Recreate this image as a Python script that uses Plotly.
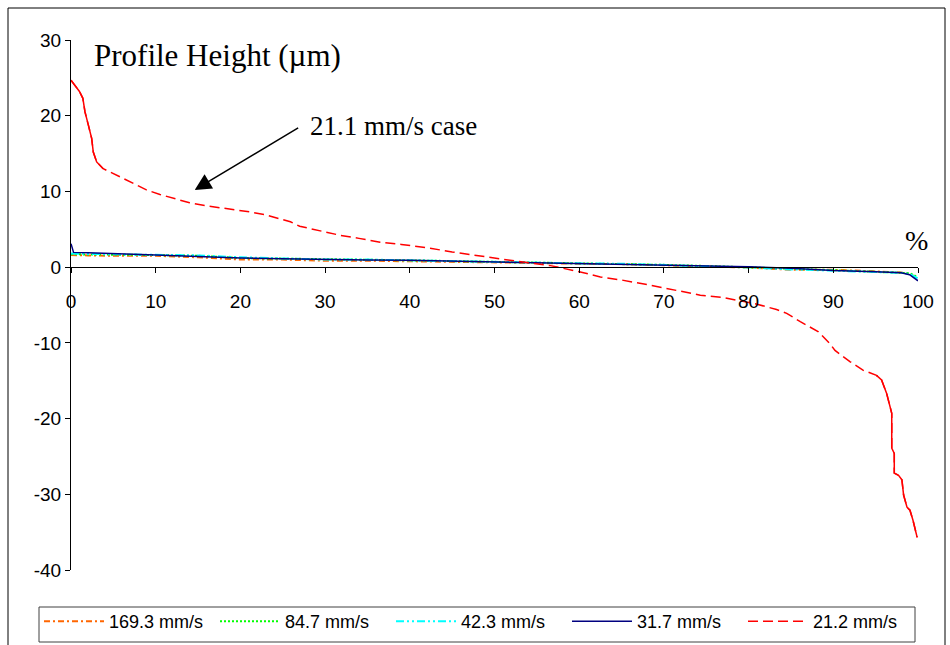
import plotly.graph_objects as go

# ---- data ----
x_flat = [0, 0.3, 2, 5, 10, 15, 20, 25, 30, 35, 40, 45, 50, 55, 60, 65, 70, 75, 80, 85, 90, 95, 98, 99, 100]
y_169 = [1.6, 1.6, 1.55, 1.5, 1.5, 1.3, 1.0, 1.0, 0.85, 0.85, 0.8, 0.65, 0.6, 0.55, 0.45, 0.4, 0.25, 0.1, -0.05, -0.35, -0.35, -0.55, -0.7, -0.9, -1.4]
y_847 = [1.7, 1.7, 1.7, 1.65, 1.6, 1.5, 1.2, 1.15, 1.0, 1.0, 0.9, 0.8, 0.7, 0.6, 0.5, 0.45, 0.3, 0.15, 0.0, -0.2, -0.4, -0.6, -0.7, -0.8, -1.3]
y_423 = [1.8, 1.8, 1.75, 1.7, 1.6, 1.55, 1.3, 1.2, 1.0, 1.0, 0.9, 0.75, 0.7, 0.6, 0.5, 0.45, 0.3, 0.15, -0.05, -0.3, -0.45, -0.65, -0.75, -0.9, -1.5]
y_317 = [3.1, 1.95, 1.9, 1.75, 1.6, 1.4, 1.2, 1.1, 1.0, 0.95, 0.9, 0.8, 0.7, 0.6, 0.5, 0.45, 0.35, 0.2, 0.05, -0.15, -0.45, -0.6, -0.75, -1.0, -1.8]

x_212 = [0, 0.5, 1.0, 1.4, 1.65, 2.05, 2.44, 2.63, 3.03, 3.8,
         5, 6.2, 7.5, 8.9, 10.5, 12.1, 14, 16, 18, 20,
         21.1, 23, 25.9, 27, 29, 31.8, 34, 36.5, 39, 42.4,
         45, 48.6, 51, 53.8, 56.6, 60, 62.5, 65, 68, 70.3,
         72, 74.3, 77, 79, 81, 83.3, 84.5, 86.1, 88.2, 89.6,
         90.2, 92, 93.5, 95.1, 95.7, 96.3, 96.8, 96.9, 96.9, 97.2,
         97.2, 97.7, 98.1, 98.3, 98.7, 99.05, 99.4, 99.6, 99.9]
y_212 = [24.7, 24.0, 23.2, 22.3, 20.5, 18.75, 17.0, 15.2, 13.9, 13.0,
         12.4, 11.7, 11.0, 10.2, 9.6, 9.1, 8.5, 8.1, 7.8, 7.5,
         7.3, 6.9, 6.0, 5.4, 4.9, 4.2, 3.8, 3.3, 3.0, 2.5,
         2.0, 1.4, 1.0, 0.6, 0.2, -0.6, -1.3, -1.7, -2.3, -2.8,
         -3.2, -3.7, -4.0, -4.4, -4.9, -5.6, -6.1, -7.2, -8.5, -10.1,
         -11.0, -12.5, -13.6, -14.3, -14.9, -16.7, -18.7, -19.3, -23.9, -24.6,
         -27.2, -27.5, -28.1, -30.1, -31.7, -32.1, -33.4, -34.5, -35.7]

x_ticks = [0, 10, 20, 30, 40, 50, 60, 70, 80, 90, 100]
y_ticks = [30, 20, 10, 0, -10, -20, -30, -40]
y_tick_text = ["30", "20", "10", "0", "-10", "-20", "-30", "-40"]

names = ["169.3 mm/s", "84.7 mm/s", "42.3 mm/s", "31.7 mm/s", "21.2 mm/s"]

fig = go.Figure()
fig.add_trace(go.Scatter(x=x_flat, y=y_169, mode="lines", name=names[0],
                         line=dict(color="#FF6600", width=2, dash="6px,3px,2px,3px")))
fig.add_trace(go.Scatter(x=x_flat, y=y_847, mode="lines", name=names[1],
                         line=dict(color="#00FF00", width=2, dash="2px,2px")))
fig.add_trace(go.Scatter(x=x_flat, y=y_423, mode="lines", name=names[2],
                         line=dict(color="#00FFFF", width=2, dash="8px,3px,2px,3px,2px,3px")))
fig.add_trace(go.Scatter(x=x_flat, y=y_317, mode="lines", name=names[3],
                         line=dict(color="#000080", width=1.5)))
fig.add_trace(go.Scatter(x=x_212, y=y_212, mode="lines", name=names[4], legendgroup="r",
                         line=dict(color="#FF0000", width=1.5, dash="10px,5px")))
# steep parts appear solid in the reference
fig.add_trace(go.Scatter(x=x_212[:10], y=y_212[:10], mode="lines", showlegend=False, legendgroup="r",
                         line=dict(color="#FF0000", width=1.5)))
fig.add_trace(go.Scatter(x=x_212[53:], y=y_212[53:], mode="lines", showlegend=False, legendgroup="r",
                         line=dict(color="#FF0000", width=1.5)))

# paper-coordinate helpers (plot area: x 71..918 px, y 40..570 px)
def px_x(p):
    return (p - 71) / 847

def px_y(p):
    return (570 - p) / 530

fig.update_layout(
    width=950, height=645,
    margin=dict(l=71, r=32, t=40, b=75, autoexpand=False),
    paper_bgcolor="white", plot_bgcolor="white",
    font=dict(family="Liberation Sans, Arial", size=19, color="black"),
    showlegend=True,
    legend=dict(orientation="h", x=px_x(39), y=px_y(603), xanchor="left", yanchor="top",
                bgcolor="rgba(0,0,0,0)", borderwidth=0, font=dict(size=18),
                entrywidth=101, entrywidthmode="pixels", itemwidth=60,
                tracegroupgap=0),
    xaxis=dict(range=[0, 100], tickvals=x_ticks, anchor="free", position=40/70,
               showline=True, linecolor="black", linewidth=1, ticks="outside", ticklen=5,
               tickcolor="black", showgrid=False, zeroline=False, ticklabelstandoff=12,
               tickfont=dict(size=19)),
    yaxis=dict(range=[-40, 30], tickvals=y_ticks, ticktext=y_tick_text, showline=True,
               linecolor="black", linewidth=1,
               ticks="outside", ticklen=5, tickcolor="black", showgrid=False, zeroline=False,
               tickfont=dict(size=19)),
    shapes=[
        dict(type="rect", xref="paper", yref="paper", x0=px_x(8), x1=px_x(945), y0=px_y(660), y1=px_y(8),
             line=dict(color="black", width=1), fillcolor="rgba(0,0,0,0)", layer="below"),
        dict(type="rect", xref="paper", yref="paper", x0=px_x(39), x1=px_x(915), y0=px_y(642), y1=px_y(607),
             line=dict(color="#404040", width=1), fillcolor="rgba(0,0,0,0)", layer="below"),
    ],
    annotations=[
        dict(text="Profile Height (µm)", xref="paper", yref="paper", x=px_x(92), y=px_y(55),
             xanchor="left", yanchor="middle", showarrow=False,
             font=dict(family="Liberation Serif, Times New Roman", size=31)),
        dict(text="21.1 mm/s case", xref="paper", yref="paper", x=px_x(308), y=px_y(126),
             xanchor="left", yanchor="middle", showarrow=False,
             font=dict(family="Liberation Serif, Times New Roman", size=27)),
        dict(text="%", xref="paper", yref="paper", x=px_x(916), y=px_y(240),
             xanchor="center", yanchor="middle", showarrow=False,
             font=dict(family="Liberation Serif, Times New Roman", size=28)),
        dict(text="", x=14.6, y=10.2, xref="x", yref="y", showarrow=True,
             ax=105, ay=-63, axref="pixel", ayref="pixel",
             arrowhead=2, arrowsize=2.2, arrowwidth=1.5, arrowcolor="black"),
    ],
)

fig.write_html("out.html")
